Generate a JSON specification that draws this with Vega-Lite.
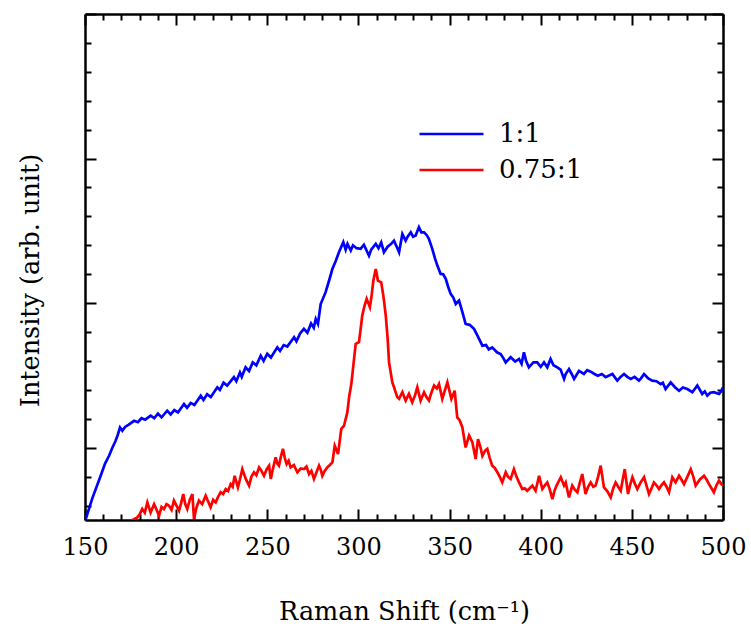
{
 "$schema": "https://vega.github.io/schema/vega-lite/v6.json",
 "width": 638, "height": 506,
 "autosize": {"type": "none"},
 "padding": {"left": 85, "top": 14, "right": 28, "bottom": 106},
 "background": "white",
 "config": {"font": "DejaVu Serif", "view": {"stroke": null},
  "axis": {"grid": false, "domainColor": "black", "domainWidth": 2.5, "tickColor": "black", "tickWidth": 2, "labelColor": "black", "titleColor": "black", "labelOverlap": false, "labelFlush": false, "titleFontWeight": "normal", "labelFont": "DejaVu Serif", "titleFont": "DejaVu Serif"},
  "legend": {"labelFont": "DejaVu Serif"}},
 "datasets": {
  "blue": [
{"x":150.4,"y":-2.47},{"x":154,"y":-1.75},{"x":158.6,"y":-0.97},{"x":161,"y":-0.55},{"x":163.2,"y":-0.28},{"x":165,"y":0.0},{"x":166.8,"y":0.24},{"x":168,"y":0.45},{"x":169.2,"y":0.70},{"x":170.5,"y":0.59},{"x":172,"y":0.72},{"x":174,"y":0.80},{"x":176.9,"y":0.93},{"x":179,"y":0.88},{"x":181,"y":1.02},{"x":183,"y":0.97},{"x":186,"y":1.11},{"x":188,"y":1.02},{"x":190,"y":1.18},{"x":192,"y":1.05},{"x":195.1,"y":1.28},{"x":197,"y":1.15},{"x":199,"y":1.30},{"x":201,"y":1.22},{"x":204.3,"y":1.51},{"x":206,"y":1.38},{"x":208,"y":1.55},{"x":210,"y":1.48},{"x":213.5,"y":1.80},{"x":215,"y":1.65},{"x":217,"y":1.85},{"x":219,"y":1.75},{"x":222.6,"y":2.09},{"x":224,"y":2.00},{"x":226,"y":2.25},{"x":228,"y":2.15},{"x":231.7,"y":2.44},{"x":233,"y":2.30},{"x":235,"y":2.60},{"x":236,"y":2.45},{"x":238.1,"y":2.78},{"x":240,"y":2.65},{"x":242,"y":2.95},{"x":244,"y":2.85},{"x":246.4,"y":3.18},{"x":248,"y":3.00},{"x":250,"y":3.25},{"x":252,"y":3.12},{"x":255.5,"y":3.47},{"x":257,"y":3.35},{"x":259,"y":3.55},{"x":261,"y":3.50},{"x":264.7,"y":3.82},{"x":266,"y":3.68},{"x":268,"y":3.95},{"x":270.1,"y":4.11},{"x":272,"y":3.98},{"x":274,"y":4.30},{"x":275.5,"y":4.15},{"x":276.6,"y":4.45},{"x":277.8,"y":4.28},{"x":279.3,"y":4.97},{"x":282,"y":5.38},{"x":284,"y":5.80},{"x":285.7,"y":6.18},{"x":287.5,"y":6.45},{"x":289.3,"y":6.76},{"x":291.7,"y":7.11},{"x":293,"y":6.85},{"x":294,"y":7.05},{"x":295.8,"y":6.82},{"x":297,"y":7.00},{"x":299,"y":6.90},{"x":301.2,"y":6.88},{"x":303,"y":7.02},{"x":305.8,"y":6.64},{"x":307,"y":6.85},{"x":309.5,"y":7.05},{"x":311,"y":6.90},{"x":312.5,"y":7.10},{"x":314,"y":6.76},{"x":316,"y":6.95},{"x":318,"y":7.05},{"x":319.5,"y":7.16},{"x":321,"y":6.95},{"x":322.3,"y":6.76},{"x":324.1,"y":7.39},{"x":325.9,"y":7.16},{"x":327,"y":7.30},{"x":328.7,"y":7.45},{"x":330,"y":7.30},{"x":331.4,"y":7.34},{"x":333.2,"y":7.63},{"x":334.5,"y":7.45},{"x":336,"y":7.45},{"x":337.5,"y":7.35},{"x":338.7,"y":7.22},{"x":340.5,"y":6.88},{"x":342,"y":6.55},{"x":343.3,"y":6.30},{"x":345.1,"y":6.01},{"x":346.5,"y":6.00},{"x":347.9,"y":5.84},{"x":349.3,"y":5.55},{"x":350.6,"y":5.32},{"x":352,"y":5.20},{"x":353.4,"y":4.97},{"x":355.2,"y":5.09},{"x":357,"y":4.70},{"x":358.8,"y":4.28},{"x":361,"y":4.25},{"x":363.4,"y":4.11},{"x":365.5,"y":3.85},{"x":368,"y":3.53},{"x":370,"y":3.55},{"x":371.5,"y":3.40},{"x":373.4,"y":3.47},{"x":376,"y":3.30},{"x":378,"y":3.24},{"x":379.5,"y":3.10},{"x":380.8,"y":2.95},{"x":383.5,"y":3.13},{"x":386,"y":2.98},{"x":388.1,"y":3.07},{"x":389.5,"y":2.90},{"x":390.8,"y":3.30},{"x":392,"y":3.00},{"x":393.5,"y":2.78},{"x":396,"y":2.95},{"x":398.1,"y":2.95},{"x":400,"y":2.80},{"x":401.8,"y":2.95},{"x":403.6,"y":2.78},{"x":405.4,"y":3.07},{"x":407,"y":2.85},{"x":409.1,"y":2.78},{"x":410.9,"y":2.70},{"x":412.8,"y":2.38},{"x":413.7,"y":2.55},{"x":415.5,"y":2.72},{"x":417,"y":2.55},{"x":418.3,"y":2.38},{"x":421,"y":2.66},{"x":423.7,"y":2.55},{"x":425.5,"y":2.68},{"x":427.4,"y":2.63},{"x":429.5,"y":2.55},{"x":431.3,"y":2.49},{"x":433.5,"y":2.55},{"x":435.6,"y":2.44},{"x":437.5,"y":2.50},{"x":439.3,"y":2.55},{"x":442,"y":2.32},{"x":443.8,"y":2.45},{"x":445.7,"y":2.55},{"x":447.5,"y":2.45},{"x":449.4,"y":2.38},{"x":451.5,"y":2.45},{"x":453.9,"y":2.32},{"x":455,"y":2.40},{"x":456.7,"y":2.55},{"x":459,"y":2.40},{"x":461.2,"y":2.32},{"x":463.5,"y":2.30},{"x":465.8,"y":2.20},{"x":467,"y":2.25},{"x":468.5,"y":2.03},{"x":471.3,"y":2.26},{"x":473.5,"y":2.10},{"x":475.9,"y":1.97},{"x":478,"y":2.08},{"x":480.4,"y":2.03},{"x":483.2,"y":1.92},{"x":485.9,"y":2.15},{"x":488.6,"y":1.86},{"x":490,"y":1.95},{"x":491.4,"y":1.80},{"x":493,"y":1.90},{"x":495,"y":1.92},{"x":497.8,"y":1.86},{"x":499,"y":1.95},{"x":500,"y":2.09}
  ],
  "red": [
{"x":172,"y":-2.8},{"x":176,"y":-2.5},{"x":178.7,"y":-2.41},{"x":180,"y":-2.30},{"x":181.4,"y":-2.12},{"x":182.8,"y":-2.25},{"x":184.2,"y":-1.89},{"x":186,"y":-2.24},{"x":187.9,"y":-1.95},{"x":189.3,"y":-2.15},{"x":190.6,"y":-2.35},{"x":192,"y":-2.05},{"x":193.3,"y":-2.12},{"x":194.7,"y":-1.95},{"x":196.1,"y":-2.01},{"x":197.5,"y":-2.15},{"x":198.8,"y":-1.83},{"x":200.2,"y":-2.00},{"x":201.6,"y":-2.18},{"x":202.8,"y":-1.90},{"x":203.9,"y":-1.60},{"x":205,"y":-1.95},{"x":206.1,"y":-2.12},{"x":207.5,"y":-1.80},{"x":208.9,"y":-1.60},{"x":209.8,"y":-2.47},{"x":211,"y":-2.1},{"x":212.5,"y":-1.83},{"x":214.3,"y":-1.95},{"x":216.2,"y":-1.66},{"x":217.5,"y":-1.85},{"x":218.9,"y":-2.06},{"x":220.3,"y":-1.80},{"x":221.7,"y":-1.89},{"x":223,"y":-1.70},{"x":224.4,"y":-1.54},{"x":225.8,"y":-1.60},{"x":227.2,"y":-1.43},{"x":228.5,"y":-1.50},{"x":229.9,"y":-1.26},{"x":231,"y":-1.35},{"x":232.1,"y":-0.97},{"x":233.9,"y":-1.37},{"x":235,"y":-1.10},{"x":236.3,"y":-0.74},{"x":238.2,"y":-1.08},{"x":240,"y":-1.31},{"x":241.3,"y":-1.00},{"x":242.7,"y":-0.85},{"x":244,"y":-0.95},{"x":245.5,"y":-0.68},{"x":246.8,"y":-0.80},{"x":248.2,"y":-0.97},{"x":249.6,"y":-0.75},{"x":251,"y":-0.62},{"x":251.9,"y":-1.08},{"x":253.2,"y":-0.70},{"x":254.6,"y":-0.33},{"x":255.5,"y":-0.55},{"x":256.4,"y":-0.62},{"x":257.5,"y":-0.30},{"x":258.6,"y":-0.04},{"x":259.6,"y":-0.35},{"x":260.6,"y":-0.56},{"x":261.7,"y":-0.45},{"x":262.8,"y":-0.68},{"x":264.6,"y":-0.60},{"x":266.5,"y":-0.85},{"x":268.3,"y":-0.72},{"x":270.1,"y":-0.74},{"x":271.5,"y":-0.65},{"x":272.9,"y":-0.91},{"x":274.2,"y":-0.80},{"x":275.6,"y":-1.08},{"x":277,"y":-0.85},{"x":278.4,"y":-0.62},{"x":279.3,"y":-0.75},{"x":280.2,"y":-0.97},{"x":281.5,"y":-0.80},{"x":282.9,"y":-0.68},{"x":284.3,"y":-0.60},{"x":285.7,"y":-0.51},{"x":287,"y":0.07},{"x":288.8,"y":-0.22},{"x":290.6,"y":0.65},{"x":292.1,"y":0.76},{"x":293.9,"y":1.22},{"x":295,"y":1.80},{"x":296.1,"y":2.20},{"x":297.3,"y":2.90},{"x":298.5,"y":3.59},{"x":300.3,"y":3.65},{"x":301.2,"y":4.10},{"x":302.1,"y":4.57},{"x":303.3,"y":4.90},{"x":304.5,"y":5.15},{"x":306.3,"y":4.86},{"x":307.3,"y":5.30},{"x":308.2,"y":5.78},{"x":309.5,"y":6.18},{"x":310.7,"y":5.78},{"x":312.5,"y":5.72},{"x":313.8,"y":5.20},{"x":315,"y":4.57},{"x":316,"y":3.80},{"x":316.8,"y":2.95},{"x":318.6,"y":2.26},{"x":319.5,"y":2.10},{"x":320.4,"y":1.92},{"x":321.3,"y":1.75},{"x":322.3,"y":1.69},{"x":324.1,"y":1.92},{"x":325.9,"y":1.63},{"x":327.7,"y":1.86},{"x":329.5,"y":1.57},{"x":331,"y":1.80},{"x":332.3,"y":2.09},{"x":334.1,"y":1.63},{"x":336,"y":1.92},{"x":337.3,"y":1.75},{"x":338.7,"y":1.63},{"x":340,"y":1.90},{"x":341.5,"y":2.15},{"x":343,"y":2.05},{"x":344.2,"y":2.20},{"x":346,"y":1.69},{"x":347.5,"y":2.00},{"x":348.8,"y":2.26},{"x":350,"y":1.95},{"x":351,"y":1.69},{"x":352.8,"y":1.97},{"x":354.2,"y":1.05},{"x":355.5,"y":0.95},{"x":357,"y":0.71},{"x":358.8,"y":0.01},{"x":360.7,"y":0.42},{"x":362.5,"y":0.19},{"x":364.3,"y":-0.39},{"x":365.6,"y":0.30},{"x":367,"y":0.0},{"x":368,"y":-0.28},{"x":369.5,"y":-0.10},{"x":370.7,"y":-0.04},{"x":372,"y":-0.35},{"x":373.4,"y":-0.62},{"x":374.8,"y":-0.70},{"x":376.2,"y":-0.85},{"x":377.5,"y":-1.00},{"x":378.9,"y":-1.20},{"x":380.8,"y":-0.85},{"x":382,"y":-1.00},{"x":383.5,"y":-1.08},{"x":385.3,"y":-0.74},{"x":386.7,"y":-1.00},{"x":388.1,"y":-1.20},{"x":389.9,"y":-1.43},{"x":391.2,"y":-1.40},{"x":392.6,"y":-1.49},{"x":394,"y":-1.40},{"x":395.4,"y":-1.31},{"x":397.2,"y":-1.49},{"x":399.1,"y":-0.97},{"x":400.9,"y":-1.43},{"x":402.3,"y":-1.30},{"x":403.6,"y":-1.20},{"x":405,"y":-1.45},{"x":406.4,"y":-1.78},{"x":407.5,"y":-1.50},{"x":408.7,"y":-1.31},{"x":411,"y":-1.02},{"x":412.8,"y":-1.31},{"x":413.7,"y":-1.20},{"x":415.5,"y":-1.72},{"x":417.3,"y":-1.31},{"x":418.7,"y":-1.45},{"x":420.1,"y":-1.54},{"x":421.5,"y":-1.20},{"x":422.8,"y":-0.91},{"x":424.6,"y":-1.60},{"x":426,"y":-1.35},{"x":427.4,"y":-1.20},{"x":428.8,"y":-1.35},{"x":430.1,"y":-1.31},{"x":431.5,"y":-1.00},{"x":432.9,"y":-0.62},{"x":434.7,"y":-1.37},{"x":436.5,"y":-1.50},{"x":438.4,"y":-1.72},{"x":439.8,"y":-1.40},{"x":441.1,"y":-1.20},{"x":442.5,"y":-1.35},{"x":443.9,"y":-1.49},{"x":445,"y":-1.10},{"x":446.1,"y":-0.74},{"x":447.9,"y":-1.60},{"x":449,"y":-1.30},{"x":450.3,"y":-1.02},{"x":451.7,"y":-1.25},{"x":453,"y":-1.43},{"x":454.8,"y":-1.20},{"x":456.7,"y":-1.02},{"x":458,"y":-1.30},{"x":459.4,"y":-1.60},{"x":460.8,"y":-1.40},{"x":462.1,"y":-1.20},{"x":463.5,"y":-1.30},{"x":464.9,"y":-1.43},{"x":466.2,"y":-1.30},{"x":467.6,"y":-1.20},{"x":469,"y":-1.35},{"x":470.4,"y":-1.54},{"x":472.2,"y":-1.02},{"x":474,"y":-1.20},{"x":475.9,"y":-0.97},{"x":477.2,"y":-1.10},{"x":478.6,"y":-1.26},{"x":480.5,"y":-1.00},{"x":482.3,"y":-0.74},{"x":483.7,"y":-1.00},{"x":485,"y":-1.31},{"x":487.3,"y":-1.10},{"x":489.6,"y":-0.97},{"x":491,"y":-1.10},{"x":492.3,"y":-1.26},{"x":493.7,"y":-1.40},{"x":495,"y":-1.54},{"x":496.4,"y":-1.30},{"x":497.8,"y":-1.14},{"x":499,"y":-1.25},{"x":500,"y":-1.31}
  ]
 },
 "resolve": {"axis": {"x": "independent", "y": "independent"}},
 "layer": [
  {"data": {"name": "blue"},
   "mark": {"type": "line", "strokeWidth": 2.7, "clip": true},
   "encoding": {
    "x": {"field": "x", "type": "quantitative", "scale": {"domain": [150, 500], "nice": false, "zero": false},
     "axis": {"orient": "bottom", "values": [150,160,170,180,190,200,210,220,230,240,250,260,270,280,290,300,310,320,330,340,350,360,370,380,390,400,410,420,430,440,450,460,470,480,490,500],
      "tickSize": {"condition": {"test": "datum.value % 50 === 0", "value": -11}, "value": -6},
      "labelExpr": "datum.value % 50 === 0 ? datum.label : ''",
      "labelFontSize": 24, "labelPadding": 26,
      "title": "Raman Shift (cm⁻¹)", "titleFontSize": 25.5, "titleX": 319, "titleY": 99, "titleAlign": "center", "titleBaseline": "alphabetic"}},
    "y": {"field": "y", "type": "quantitative", "scale": {"domain": [-2.5, 15], "nice": false, "zero": false},
     "axis": {"orient": "left", "values": [-2,-1,0,1,2,3,4,5,6,7,8,9,10,11,12,13,14,15],
      "tickSize": {"condition": {"test": "datum.value % 5 === 0", "value": -11}, "value": -6},
      "labels": false,
      "title": "Intensity (arb. unit)", "titleFontSize": 25.5, "titleAngle": 270, "titleX": -47, "titleY": 266, "titleAlign": "center", "titleBaseline": "alphabetic"}},
    "color": {"datum": "1:1", "type": "nominal", "scale": {"domain": ["1:1", "0.75:1"], "range": ["#0000ff", "#ff0000"]},
     "legend": {"orient": "none", "legendX": 333, "legendY": 105, "title": null, "symbolType": "stroke", "symbolSize": 4096, "symbolStrokeWidth": 2.7, "clipHeight": 30, "labelFontSize": 26, "labelOffset": 14, "rowPadding": 6, "padding": 0, "labelColor": "black"}}
   }
  },
  {"data": {"name": "red"},
   "mark": {"type": "line", "strokeWidth": 2.7, "clip": true},
   "encoding": {
    "x": {"field": "x", "type": "quantitative",
     "axis": {"orient": "top", "values": [150,160,170,180,190,200,210,220,230,240,250,260,270,280,290,300,310,320,330,340,350,360,370,380,390,400,410,420,430,440,450,460,470,480,490,500],
      "tickSize": {"condition": {"test": "datum.value % 50 === 0", "value": -11}, "value": -6},
      "labels": false, "title": null}},
    "y": {"field": "y", "type": "quantitative",
     "axis": {"orient": "right", "values": [-2,-1,0,1,2,3,4,5,6,7,8,9,10,11,12,13,14,15],
      "tickSize": {"condition": {"test": "datum.value % 5 === 0", "value": -11}, "value": -6},
      "labels": false, "title": null}},
    "color": {"datum": "0.75:1", "type": "nominal"}
   }
  }
 ]
}
